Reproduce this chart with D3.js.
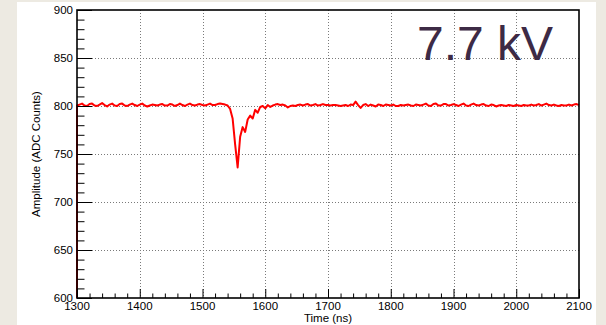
<!DOCTYPE html>
<html>
<head>
<meta charset="utf-8">
<script src="https://cdn.jsdelivr.net/npm/d3@7"></script>
<style>
  html, body { margin: 0; padding: 0; background: #edeae2; }
  svg { display: block; font-family: "Liberation Sans", Arial, sans-serif; }
</style>
</head>
<body>
<div id="chart"></div>
<script>
// waveform samples, 4 ns apart starting at 1300 ns (ADC counts)
const startTime = 1300;
const sampleStep = 4;
const amplitudes = [
  800.5, 801.5, 802.5, 800.5, 800, 802, 802.5, 800.5, 800, 801.5,
  803, 801, 799.5, 801.5, 802.5, 800.5, 800, 802, 802.5, 800.5,
  800, 801.5, 802.5, 801, 800, 801.5, 802.5, 800.5, 799.5, 800.5,
  801.5, 801, 800.5, 801.5, 802, 800.5, 800.5, 802, 801.5, 800,
  801, 802.5, 801, 800, 801.5, 802.5, 801, 800.5, 801.5, 802,
  801, 800.5, 801.5, 802.5, 801, 801, 802, 802.5, 802, 801.5,
  800.5, 797, 787, 760, 736, 768, 778, 773, 786, 790,
  787, 796, 793, 799, 800, 797.5, 801, 799, 800.5, 801.5,
  802, 801, 801.5, 800.5, 798.5, 800, 800.5, 800, 801, 801.5,
  800.5, 801.5, 802, 800.5, 801, 802, 800.5, 801, 802, 801,
  801, 800.5, 801, 801, 800.5, 800, 800.5, 801, 800, 801.5,
  801, 804.5, 801, 798, 801, 802, 800, 801.5, 800.5, 799.5,
  801.5, 801, 800, 801.5, 801, 800.5, 801.5, 800, 800, 801,
  800.5, 801, 801.5, 800.5, 800, 801.5, 801, 800.5, 801.5, 802.5,
  800.5, 800, 802, 802.5, 800.5, 800.5, 802, 802, 800.5, 801,
  802, 801, 800, 801.5, 802.5, 800.5, 800, 801.5, 802.5, 801,
  800.5, 801.5, 802, 800.5, 800, 801.5, 801, 799.5, 800.5, 801,
  800.5, 800, 801, 800.5, 800, 801, 800.5, 800, 801, 800.5,
  800.5, 801.5, 800.5, 801, 802, 800.5, 801.5, 802.5, 801, 800.5,
  801.5, 800.5, 800, 801, 800.5, 800.5, 801.5, 800.5, 801.5, 802,
  801
];
const xTicks = [1300, 1400, 1500, 1600, 1700, 1800, 1900, 2000, 2100];
const yTicks = [600, 650, 700, 750, 800, 850, 900];
const xDomain = [1300, 2100];
const yDomain = [600, 900];
const voltageLabel = '7.7 kV';

const width = 606, height = 325;
const margin = { left: 77, right: 27, top: 10, bottom: 27 };

const svg = d3.select('#chart')
  .append('svg')
  .attr('width', width)
  .attr('height', height);

// white canvas pad on the beige window
svg.append('rect')
  .attr('x', 17).attr('y', 2)
  .attr('width', 579).attr('height', 323)
  .attr('fill', '#ffffff');

const x = d3.scaleLinear().domain(xDomain).range([margin.left, width - margin.right]);
const y = d3.scaleLinear().domain(yDomain).range([height - margin.bottom, margin.top]);

// dotted grid at the major ticks
const grid = svg.append('g').attr('stroke', '#7a7a7a').attr('stroke-width', 1).attr('stroke-dasharray', '1,2');
grid.selectAll('line.vg')
  .data(xTicks.slice(1, -1))
  .join('line')
  .attr('class', 'vg')
  .attr('x1', d => Math.round(x(d)) + 0.5).attr('x2', d => Math.round(x(d)) + 0.5)
  .attr('y1', y(yDomain[1])).attr('y2', y(yDomain[0]));
grid.selectAll('line.hg')
  .data(yTicks.slice(1, -1))
  .join('line')
  .attr('class', 'hg')
  .attr('y1', d => Math.round(y(d)) + 0.5).attr('y2', d => Math.round(y(d)) + 0.5)
  .attr('x1', x(xDomain[0])).attr('x2', x(xDomain[1]));

// the waveform (the histogram line rises from the bottom at the first edge)
const points = [[xDomain[0], yDomain[0]]].concat(
  amplitudes.map((v, i) => [startTime + i * sampleStep, v])
);
const line = d3.line().x(d => x(d[0])).y(d => y(d[1]));
svg.append('path')
  .datum(points)
  .attr('d', line)
  .attr('fill', 'none')
  .attr('stroke', '#ff0000')
  .attr('stroke-width', 2)
  .attr('stroke-linejoin', 'round');

// axes: ticks point inward, like ROOT
const xAxis = d3.axisBottom(x)
  .tickValues(d3.range(xDomain[0], xDomain[1] + 1, 20))
  .tickSize(0)
  .tickFormat('');
const xg = svg.append('g')
  .attr('transform', `translate(0,${y(yDomain[0])})`)
  .call(xAxis);
xg.select('.domain').remove();
xg.selectAll('.tick line')
  .attr('y2', d => (d % 100 === 0 ? -9 : -4.5))
  .attr('stroke', '#000');
svg.append('g')
  .selectAll('text')
  .data(xTicks)
  .join('text')
  .attr('x', d => x(d))
  .attr('y', y(yDomain[0]) + 12)
  .attr('text-anchor', 'middle')
  .attr('font-size', 11.5)
  .text(d => d);

const yAxis = d3.axisLeft(y)
  .tickValues(d3.range(yDomain[0], yDomain[1] + 1, 10))
  .tickSize(0)
  .tickFormat('');
const yg = svg.append('g')
  .attr('transform', `translate(${x(xDomain[0])},0)`)
  .call(yAxis);
yg.select('.domain').remove();
yg.selectAll('.tick line')
  .attr('x2', d => (d % 50 === 0 ? 15 : 7.5))
  .attr('stroke', '#000');
svg.append('g')
  .selectAll('text')
  .data(yTicks)
  .join('text')
  .attr('x', x(xDomain[0]) - 4)
  .attr('y', d => y(d))
  .attr('dy', '0.36em')
  .attr('text-anchor', 'end')
  .attr('font-size', 11.5)
  .text(d => d);

// frame
svg.append('rect')
  .attr('x', x(xDomain[0])).attr('y', y(yDomain[1]))
  .attr('width', x(xDomain[1]) - x(xDomain[0]))
  .attr('height', y(yDomain[0]) - y(yDomain[1]))
  .attr('fill', 'none')
  .attr('stroke', '#000')
  .attr('stroke-width', 1.6);

// axis titles
svg.append('text')
  .attr('x', (x(xDomain[0]) + x(xDomain[1])) / 2)
  .attr('y', 322)
  .attr('text-anchor', 'middle')
  .attr('font-size', 11.5)
  .text('Time (ns)');
svg.append('text')
  .attr('transform', `translate(40,${(y(yDomain[0]) + y(yDomain[1])) / 2}) rotate(-90)`)
  .attr('text-anchor', 'middle')
  .attr('font-size', 11.5)
  .text('Amplitude (ADC Counts)');

// big voltage label
svg.append('text')
  .attr('x', 417)
  .attr('y', 60)
  .attr('font-size', 48)
  .attr('fill', '#3d2a45')
  .text(voltageLabel);
</script>
</body>
</html>
